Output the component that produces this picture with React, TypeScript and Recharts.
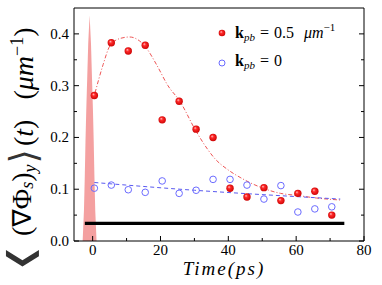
import React from "react";
import { ComposedChart, XAxis, YAxis, Line, Area, Scatter } from "recharts";

// measured times (ps) for both data sets
const pointTimes = [0.5, 5.5, 10.5, 15.5, 20.5, 25.5, 30.5, 35.5, 40.5, 45.5, 50.5, 55.5, 60.5, 65.5, 70.5];
const redValues = [0.281, 0.383, 0.367, 0.378, 0.234, 0.27, 0.216, 0.2, 0.102, 0.085, 0.103, 0.078, 0.092, 0.096, 0.05];
const blueValues = [0.102, 0.108, 0.099, 0.094, 0.116, 0.092, 0.098, 0.119, 0.119, 0.108, 0.081, 0.107, 0.056, 0.062, 0.066];

// fitted curves
const redFitTimes = [0.7, 3.1, 5.1, 8, 10.9, 13.9, 15.8, 18.8, 22.2, 25.7, 30.4, 33.9, 35.9, 39.8, 43.7, 47.6, 51.5, 55.4, 60.3, 66, 73.3];
const redFitValues = [0.286, 0.341, 0.377, 0.391, 0.394, 0.386, 0.373, 0.341, 0.3, 0.27, 0.213, 0.177, 0.16, 0.138, 0.122, 0.109, 0.099, 0.092, 0.088, 0.083, 0.079];
const blueFitTimes = [0.5, 30, 59.4, 73];
const blueFitValues = [0.113, 0.098, 0.086, 0.081];

// pump pulse and reference level
const pulseTimes = [-2.95, -2.56, -2.32, -2.12, -1.88, -1.59, -1.3, -0.9, -0.5, -0.21, 0.08, 0.32, 0.52, 0.76, 1.15];
const pulseValues = [0, 0.06, 0.125, 0.19, 0.254, 0.318, 0.383, 0.436, 0.383, 0.318, 0.254, 0.19, 0.125, 0.06, 0];
const levelTimes = [-2.3, 74.2];
const levelValues = [0.034, 0.034];

const xTicks = [0, 10, 20, 30, 40, 50, 60, 70, 80];
const yTicks = [0, 0.05, 0.1, 0.15, 0.2, 0.25, 0.3, 0.35, 0.4];

const zip = (xs: number[], ys: number[]) => xs.map((x, i) => ({ x, y: ys[i] }));

const FONT = "'Liberation Serif', 'DejaVu Serif', 'Times New Roman', serif";

const isMajorX = (v: number) => v % 20 === 0;
const isMajorY = (v: number) => Math.round(v * 100) % 10 === 0;

const BottomTick = (p: any) => {
  const v = p.payload.value;
  const major = isMajorX(v);
  return (
    <g>
      <line x1={p.x} x2={p.x} y1={p.y} y2={p.y - (major ? 5 : 3)} stroke="#000" />
      {major && (
        <text x={p.x} y={p.y + 14} textAnchor="middle" fontFamily={FONT} fontSize={15} fill="#000">
          {v}
        </text>
      )}
    </g>
  );
};

const TopTick = (p: any) => {
  const major = isMajorX(p.payload.value);
  return <line x1={p.x} x2={p.x} y1={p.y} y2={p.y + (major ? 5 : 3)} stroke="#000" />;
};

const LeftTick = (p: any) => {
  const v = p.payload.value;
  const major = isMajorY(v);
  return (
    <g>
      <line x1={p.x} x2={p.x + (major ? 5 : 3)} y1={p.y} y2={p.y} stroke="#000" />
      {major && (
        <text x={p.x - 5} y={p.y + 5} textAnchor="end" fontFamily={FONT} fontSize={15} fill="#000">
          {v.toFixed(1)}
        </text>
      )}
    </g>
  );
};

const RightTick = (p: any) => {
  const major = isMajorY(p.payload.value);
  return <line x1={p.x} x2={p.x - (major ? 5 : 3)} y1={p.y} y2={p.y} stroke="#000" />;
};

const RedBall = (p: any) => <circle cx={p.cx} cy={p.cy} r={3.7} fill="url(#redBall)" />;
const BlueRing = (p: any) => (
  <circle cx={p.cx} cy={p.cy} r={3.3} fill="none" stroke="#6b6bff" strokeWidth={1} />
);

const XLabel = (p: any) => {
  const vb = p.viewBox;
  return (
    <text x={vb.x + vb.width / 2 + 5} y={275} textAnchor="middle" fontFamily={FONT} fontStyle="italic" fontSize={19} letterSpacing={2} fill="#000">
      Time(ps)
    </text>
  );
};

const YLabel = () => (
  <g>
    <text transform="translate(31,273) rotate(-90) scale(2,1)" fontFamily="DejaVu Sans" fontSize={37} fill="#333" dy={3}>
      ⟨
    </text>
    <text transform="translate(31,236) rotate(-90)" textAnchor="start" fontFamily={FONT} fontSize={28} fill="#000">
      <tspan>(</tspan>
      <tspan fontFamily="DejaVu Sans" fontSize={26}>∇</tspan>
      <tspan>Φ</tspan>
      <tspan fontSize={18} dy={2} fontStyle="italic">s</tspan>
      <tspan dy={-2}>)</tspan>
      <tspan fontSize={18} dy={5} fontStyle="italic">y</tspan>
      <tspan fontSize={37} dy={0} dx={1} fontFamily="DejaVu Sans" fill="#333">⟩</tspan>
      <tspan dy={-3} dx={3}>(</tspan>
      <tspan fontStyle="italic">t</tspan>
      <tspan>)</tspan>
      <tspan dx={20}>(</tspan>
      <tspan fontStyle="italic">μm</tspan>
      <tspan fontSize={18} dy={-10}>−1</tspan>
      <tspan dy={10}>)</tspan>
    </text>
  </g>
);

const legendText: React.CSSProperties = { fontFamily: FONT, fontSize: 16, color: "#000", whiteSpace: "nowrap" };
const subStyle: React.CSSProperties = { fontSize: 11, fontStyle: "italic", verticalAlign: "-3px" };

function ChartLegend() {
  return (
    <div style={{ position: "absolute", left: 216, top: 16, lineHeight: "23px" }}>
      <div style={{ display: "flex", alignItems: "center" }}>
        <svg width={12} height={12} style={{ marginRight: 7 }}>
          <circle cx={6} cy={6} r={3.3} fill="url(#redBall)" />
        </svg>
        <span style={legendText}>
          <b>k</b>
          <span style={subStyle}>pb</span>
          <span style={{ margin: "0 5px" }}>=</span>0.5
          <i style={{ marginLeft: 10 }}>μm</i>
          <span style={{ fontSize: 11, verticalAlign: "7px" }}>−1</span>
        </span>
      </div>
      <div style={{ display: "flex", alignItems: "center" }}>
        <svg width={12} height={12} style={{ marginRight: 7 }}>
          <circle cx={6} cy={6} r={3} fill="none" stroke="#6b6bff" />
        </svg>
        <span style={legendText}>
          <b>k</b>
          <span style={subStyle}>pb</span>
          <span style={{ margin: "0 5px" }}>=</span>0
        </span>
      </div>
    </div>
  );
}

export default function App() {
  const redPoints = zip(pointTimes, redValues);
  const bluePoints = zip(pointTimes, blueValues);
  const redFit = zip(redFitTimes, redFitValues);
  const blueFit = zip(blueFitTimes, blueFitValues);
  const pulse = zip(pulseTimes, pulseValues);
  const level = zip(levelTimes, levelValues);

  return (
    <div style={{ position: "absolute", left: 0, top: 0, width: 382, height: 285, background: "#fff" }}>
      <svg width={0} height={0} style={{ position: "absolute" }}>
        <defs>
          <radialGradient id="redBall" cx="50%" cy="50%" r="55%" fx="35%" fy="32%">
            <stop offset="0%" stopColor="#ffc8c8" />
            <stop offset="35%" stopColor="#ff2a2a" />
            <stop offset="100%" stopColor="#c80000" />
          </radialGradient>
        </defs>
      </svg>
      <ComposedChart width={382} height={285} margin={{ top: 0, right: 0, bottom: 0, left: 0 }}>
        <XAxis
          dataKey="x"
          type="number"
          domain={[-5.5, 80]}
          ticks={xTicks}
          interval={0}
          orientation="bottom"
          height={44}
          tickSize={0}
          tickMargin={0}
          tick={BottomTick}
          stroke="#000"
          allowDataOverflow
          label={{ content: XLabel }}
        />
        <XAxis
          xAxisId="top"
          type="number"
          domain={[-5.5, 80]}
          ticks={xTicks}
          interval={0}
          orientation="top"
          height={8}
          tickSize={0}
          tickMargin={0}
          tick={TopTick}
          stroke="#000"
          allowDataOverflow
        />
        <YAxis
          type="number"
          domain={[0, 0.45]}
          ticks={yTicks}
          interval={0}
          width={74}
          tickSize={0}
          tickMargin={0}
          tick={LeftTick}
          stroke="#000"
          allowDataOverflow
          label={{ content: YLabel }}
        />
        <YAxis
          yAxisId="right"
          orientation="right"
          type="number"
          domain={[0, 0.45]}
          ticks={yTicks}
          interval={0}
          width={18}
          tickSize={0}
          tickMargin={0}
          tick={RightTick}
          stroke="#000"
          allowDataOverflow
        />
        <Line data={level} dataKey="y" type="linear" stroke="#000" strokeWidth={3.2} dot={false} isAnimationActive={false} />
        <Area data={pulse} dataKey="y" type="linear" stroke="none" fill="#f08080" fillOpacity={0.75} baseValue={0} isAnimationActive={false} />
        <Line data={redFit} dataKey="y" type="monotone" stroke="#ee5555" strokeWidth={1} strokeDasharray="4 2 1 2" dot={false} isAnimationActive={false} />
        <Line data={blueFit} dataKey="y" type="monotone" stroke="#5a5af0" strokeWidth={1} strokeDasharray="4 3" dot={false} isAnimationActive={false} />
        <Scatter data={bluePoints} dataKey="y" shape={BlueRing} isAnimationActive={false} />
        <Scatter data={redPoints} dataKey="y" shape={RedBall} isAnimationActive={false} />
      </ComposedChart>
      <ChartLegend />
    </div>
  );
}
